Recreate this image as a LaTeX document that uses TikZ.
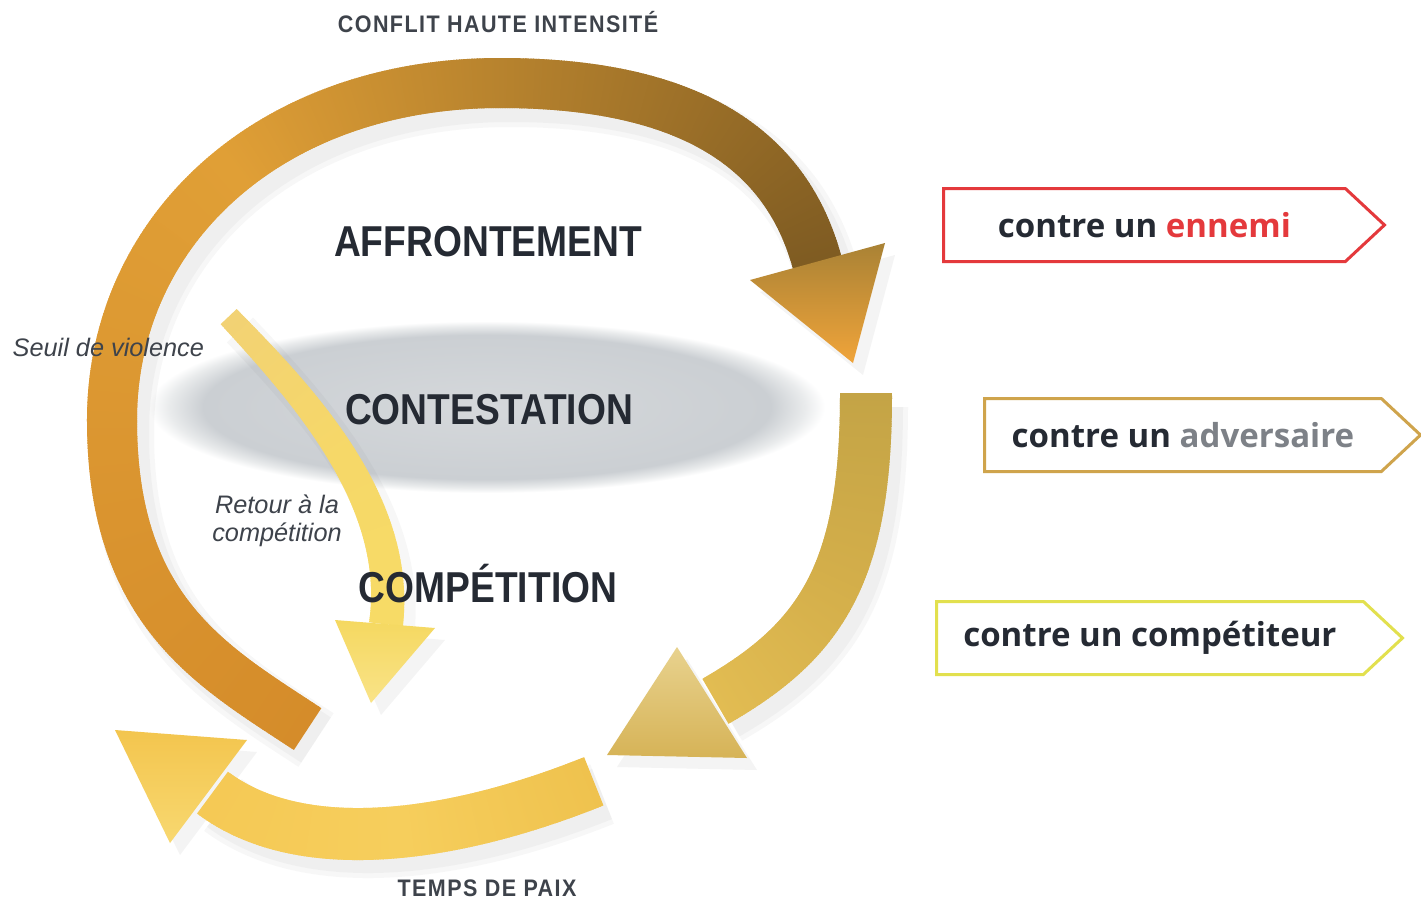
\documentclass[tikz,border=0pt]{standalone}
\usepackage{fontspec}
\setmainfont{Liberation Sans}
\newfontfamily\dinfont[FakeStretch=0.86]{Liberation Sans}
\newfontfamily\capfont[FakeStretch=0.9, LetterSpace=6]{Liberation Sans}
\newfontfamily\tagfont{Open Sans}
\usetikzlibrary{decorations.markings,shapes.symbols}

\definecolor{inkdark}{HTML}{252A33}
\definecolor{inkgrey}{HTML}{3E434B}
% big arc: low left end, left side, right end
\definecolor{bigA}{HTML}{D58C2A}
\definecolor{bigB}{HTML}{E09F36}
\definecolor{bigC}{HTML}{7E5B22}
\definecolor{rgtA}{HTML}{C4A446}
\definecolor{rgtB}{HTML}{D3AE4A}
\definecolor{rgtC}{HTML}{E2BC52}
\definecolor{botA}{HTML}{EFC24E}
\definecolor{botB}{HTML}{F6CE5C}
\definecolor{botC}{HTML}{F5C955}
\definecolor{retA}{HTML}{F2D274}
\definecolor{retB}{HTML}{F6D868}
\definecolor{retC}{HTML}{F7DB66}
\definecolor{hdAtop}{HTML}{A98235}
\definecolor{hdAbot}{HTML}{F0A43A}
\definecolor{hdBtop}{HTML}{E8D28E}
\definecolor{hdBbot}{HTML}{D6B357}
\definecolor{hdCtop}{HTML}{F3C54E}
\definecolor{hdCbot}{HTML}{F8D870}
\definecolor{hdDtop}{HTML}{F5D860}
\definecolor{hdDbot}{HTML}{F9E388}
\definecolor{ellcore}{HTML}{D5D8DB}
\definecolor{ellrim}{HTML}{CBCFD3}
\definecolor{ellfade}{HTML}{E9EBEC}
\definecolor{enemyred}{HTML}{E4393C}
\definecolor{advochre}{HTML}{CFA44C}
\definecolor{advgrey}{HTML}{7D8187}
\definecolor{compyellow}{HTML}{E2E04E}

\pgfdeclareradialshading{contestshade}{\pgfpoint{0bp}{0bp}}{color(0bp)=(ellcore); color(21bp)=(ellrim); color(23.5bp)=(ellfade); color(25bp)=(white); color(50bp)=(white)}

% thick band, colour and width running along the path
\tikzset{
  band/.style n args={5}{postaction={decorate,decoration={markings,
    mark=between positions 0 and 1 step 0.7pt with {%
      \pgfmathsetmacro\fr{\pgfkeysvalueof{/pgf/decoration/mark info/distance from start}/\pgfdecoratedpathlength}%
      \pgfmathsetmacro\hw{0.05*(#4+(#5-#4)*\fr)}%
      \ifdim\fr pt<0.5pt
        \pgfmathsetmacro\pc{200*\fr}\colorlet{bandcol}{#2!\pc!#1}%
      \else
        \pgfmathsetmacro\pc{200*\fr-100}\colorlet{bandcol}{#3!\pc!#2}%
      \fi
      \fill[bandcol] (-0.55pt,-\hw mm) rectangle (0.55pt,\hw mm);
    }}}},
}

\begin{document}
\begin{tikzpicture}[x=0.1mm, y=-0.1mm,
    phase/.style={font=\dinfont\bfseries\fontsize{12.3}{14}\selectfont, text=inkdark, anchor=base, inner sep=0pt},
    toplabel/.style={font=\capfont\bfseries\fontsize{6.8}{8}\selectfont, text=inkgrey, anchor=base, inner sep=0pt},
    note/.style={font=\itshape\fontsize{7.2}{8}\selectfont, text=inkgrey, inner sep=0pt},
    tagbox/.style={signal, signal to=east, signal pointer angle=86, draw, line width=0.3mm,
      minimum height=7.3mm, inner sep=0pt, anchor=west,
      font=\tagfont\bfseries\fontsize{9.4}{12}\selectfont, text=inkdark},
    dropshade/.style={draw=black!60, draw opacity=0.05, line cap=butt, transform canvas={shift={(1mm,-1.2mm)}}},
    headshade/.style={fill=black!60, fill opacity=0.07, transform canvas={shift={(1mm,-1.2mm)}}}
]
\useasboundingbox (0,0) rectangle (1421,899);
\fill[white] (0,0) rectangle (1421,899);

% band ends and arrow heads
\coordinate (big-s) at (306,728);
\coordinate (big-l) at (112,420);
\coordinate (big-t) at (500,83);
\coordinate (big-e) at (817,262);
\coordinate (rgt-s) at (866,395);
\coordinate (rgt-e) at (716,701);
\coordinate (bot-s) at (592,782);
\coordinate (bot-e) at (213,793);
\coordinate (ret-s) at (230,318);
\coordinate (ret-e) at (386,624);
\coordinate (h1a) at (750,280);
\coordinate (h1b) at (885,243);
\coordinate (h1c) at (853,363);
\coordinate (h2a) at (677,647);
\coordinate (h2b) at (607,755);
\coordinate (h2c) at (747,758);
\coordinate (h3a) at (115,730);
\coordinate (h3b) at (247,740);
\coordinate (h3c) at (170,843);
\coordinate (h4a) at (335,620);
\coordinate (h4b) at (435,628);
\coordinate (h4c) at (371,703);

% seuil de violence
\shade[shading=contestshade] (487,407) ellipse [x radius=338, y radius=86];

% shadows
\foreach \w in {6.4,5.4}{
\draw[dropshade, line width=\w mm] (big-s) .. controls (210,665) and (112,610) .. (big-l)
  .. controls (112,230) and (270,83) .. (big-t) .. controls (700,83) and (788,156) .. (big-e);
\draw[dropshade, line width=\w mm] (rgt-s) .. controls (866,575) and (820,641) .. (rgt-e);
\draw[dropshade, line width=\w mm] (bot-s) .. controls (452,838) and (301,859) .. (bot-e);
}
\draw[dropshade, line width=3.6mm] (ret-s) .. controls (300,392) and (402,500) .. (ret-e);
\fill[headshade] (h1a) -- (h1b) -- (h1c) -- cycle;
\fill[headshade] (h2a) -- (h2b) -- (h2c) -- cycle;
\fill[headshade] (h3a) -- (h3b) -- (h3c) -- cycle;
\fill[headshade] (h4a) -- (h4b) -- (h4c) -- cycle;

% the cycle
\path[band={bigA}{bigB}{bigC}{50}{50}] (big-s) .. controls (210,665) and (112,610) .. (big-l)
  .. controls (112,230) and (270,83) .. (big-t) .. controls (700,83) and (788,156) .. (big-e);
\shade[top color=hdAtop, bottom color=hdAbot] (h1a) -- (h1b) -- (h1c) -- cycle;

\path[band={rgtA}{rgtB}{rgtC}{52}{52}] (rgt-s) .. controls (866,575) and (820,641) .. (rgt-e);
\shade[top color=hdBtop, bottom color=hdBbot] (h2a) -- (h2b) -- (h2c) -- cycle;

\path[band={botA}{botB}{botC}{52}{52}] (bot-s) .. controls (452,838) and (301,859) .. (bot-e);
\shade[top color=hdCtop, bottom color=hdCbot] (h3a) -- (h3b) -- (h3c) -- cycle;

\path[band={retA}{retB}{retC}{22}{34}] (ret-s) .. controls (300,392) and (402,500) .. (ret-e);
\shade[top color=hdDtop, bottom color=hdDbot] (h4a) -- (h4b) -- (h4c) -- cycle;

% labels
\node[toplabel] (haute) at (498,32) {CONFLIT HAUTE INTENSITÉ};
\node[toplabel] (paix) at (487,896) {TEMPS DE PAIX};
\node[phase] (affr) at (488,256) {AFFRONTEMENT};
\node[phase] (cont) at (489,424) {CONTESTATION};
\node[phase] (comp) at (488,602) {COMPÉTITION};
\node[note, anchor=base west] (seuil) at (12,356) {Seuil de violence};
\node[note, align=center] (retour) at (277,521) {Retour à la\\compétition};

% opponents
\node[tagbox, draw=enemyred, minimum width=44.1mm] (ennemi) at (942,225) {contre un \textcolor{enemyred}{ennemi}};
\node[tagbox, draw=advochre, minimum width=43.6mm] (adversaire) at (983,435) {contre un \textcolor{advgrey}{adversaire}};
\node[tagbox, draw=compyellow, minimum width=46.6mm] (competiteur) at (935,638) {contre un compétiteur};
\end{tikzpicture}
\end{document}
